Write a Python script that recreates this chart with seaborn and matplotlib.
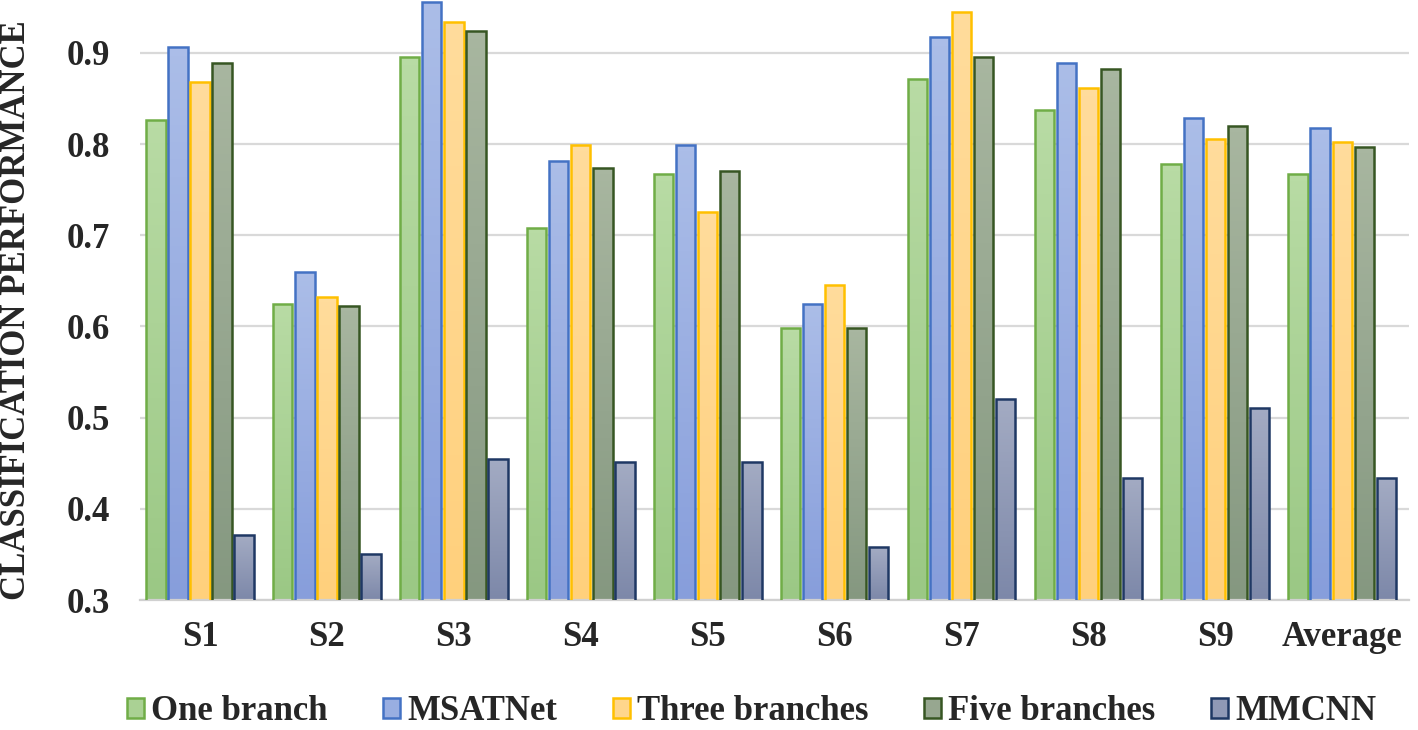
import numpy as np
import pandas as pd
import matplotlib.pyplot as plt
import seaborn as sns
from matplotlib.patches import Patch
from matplotlib.colors import LinearSegmentedColormap

# values
subjects = ['S1', 'S2', 'S3', 'S4', 'S5', 'S6', 'S7', 'S8', 'S9', 'Average']
methods = ['One branch', 'MSATNet', 'Three branches', 'Five branches', 'MMCNN']
one_branch = [0.826, 0.625, 0.896, 0.708, 0.767, 0.598, 0.871, 0.837, 0.778, 0.767]
msatnet = [0.906, 0.660, 0.956, 0.781, 0.799, 0.625, 0.917, 0.889, 0.829, 0.818]
three_branches = [0.868, 0.632, 0.934, 0.799, 0.726, 0.646, 0.945, 0.861, 0.806, 0.802]
five_branches = [0.889, 0.622, 0.924, 0.774, 0.771, 0.598, 0.896, 0.882, 0.820, 0.797]
mmcnn = [0.371, 0.350, 0.455, 0.451, 0.451, 0.358, 0.521, 0.434, 0.511, 0.434]

# top / bottom gradient colours and edge colour per method
tops = ['#b8dba4', '#abbde8', '#ffdc9c', '#a8b6a0', '#a3abc3']
bottoms = ['#9bc885', '#879edb', '#ffd07c', '#859880', '#7d88a9']
edges = ['#70ad47', '#4472c4', '#ffc000', '#375623', '#1f3864']
mids = ['#aad194', '#99aee1', '#ffd68c', '#97a790', '#9099b6']

df = pd.DataFrame({'Subject': subjects,
                   'One branch': one_branch,
                   'MSATNet': msatnet,
                   'Three branches': three_branches,
                   'Five branches': five_branches,
                   'MMCNN': mmcnn})
df = df.melt(id_vars='Subject', var_name='Method', value_name='Score')

sns.set_style('white')
plt.rcParams['font.family'] = ['Liberation Serif', 'DejaVu Serif']
plt.rcParams['font.weight'] = 'bold'

fig = plt.figure(figsize=(14.18, 7.30), dpi=100)
ax = fig.add_axes([0.099, 0.178, 0.895, 0.822])

sns.barplot(data=df, x='Subject', y='Score', hue='Method', hue_order=methods,
            palette=mids, width=0.87, gap=0.12, ax=ax, legend=False,
            linewidth=1.8, zorder=3)

ymin, ymax = 0.3, 0.958

# gradient fill inside every bar
for i, cont in enumerate(ax.containers):
    cmap = LinearSegmentedColormap.from_list('g%d' % i, [bottoms[i], tops[i]])
    for bar in cont:
        bar.set_edgecolor(edges[i])
        bar.set_facecolor('none')
        x0 = bar.get_x()
        x1 = x0 + bar.get_width()
        y1 = bar.get_height()
        im = ax.imshow(np.linspace(0, 1, 64).reshape(-1, 1), cmap=cmap,
                       origin='lower', aspect='auto',
                       extent=[x0, x1, ymin, y1], zorder=2)
        im.set_clip_path(bar)
ax.set_xlim(-0.47, 9.53)
ax.set_ylim(ymin, ymax)

ax.set_yticks([0.3, 0.4, 0.5, 0.6, 0.7, 0.8, 0.9])
ax.set_yticklabels(['0.3', '0.4', '0.5', '0.6', '0.7', '0.8', '0.9'])
ax.yaxis.grid(True, color='#d9d9d9', linewidth=1.6, zorder=0)
ax.set_axisbelow(True)
for s in ['top', 'right', 'left']:
    ax.spines[s].set_visible(False)
ax.spines['bottom'].set_color('#d0d0d0')
ax.spines['bottom'].set_linewidth(1.6)
ax.tick_params(axis='both', length=0, labelsize=25)
ax.tick_params(axis='x', pad=15)
ax.tick_params(axis='y', pad=22)
for t in ax.get_xticklabels() + ax.get_yticklabels():
    t.set_fontweight('bold')

ax.set_xlabel('')
ax.set_ylabel('CLASSIFICATION PERFORMANCE', fontsize=25, fontweight='bold')
ax.yaxis.set_label_coords(-0.085, 0.483)

handles = [Patch(facecolor=mids[i], edgecolor=edges[i], linewidth=1.8)
           for i in range(len(methods))]
fig.legend(handles, methods, loc='center', bbox_to_anchor=(0.53, 0.025),
           ncol=5, frameon=False, handlelength=0.5, handleheight=0.5,
           handletextpad=0.2, columnspacing=1.6,
           prop={'size': 25, 'weight': 'bold'})

fig.savefig('out.png', dpi=100)
